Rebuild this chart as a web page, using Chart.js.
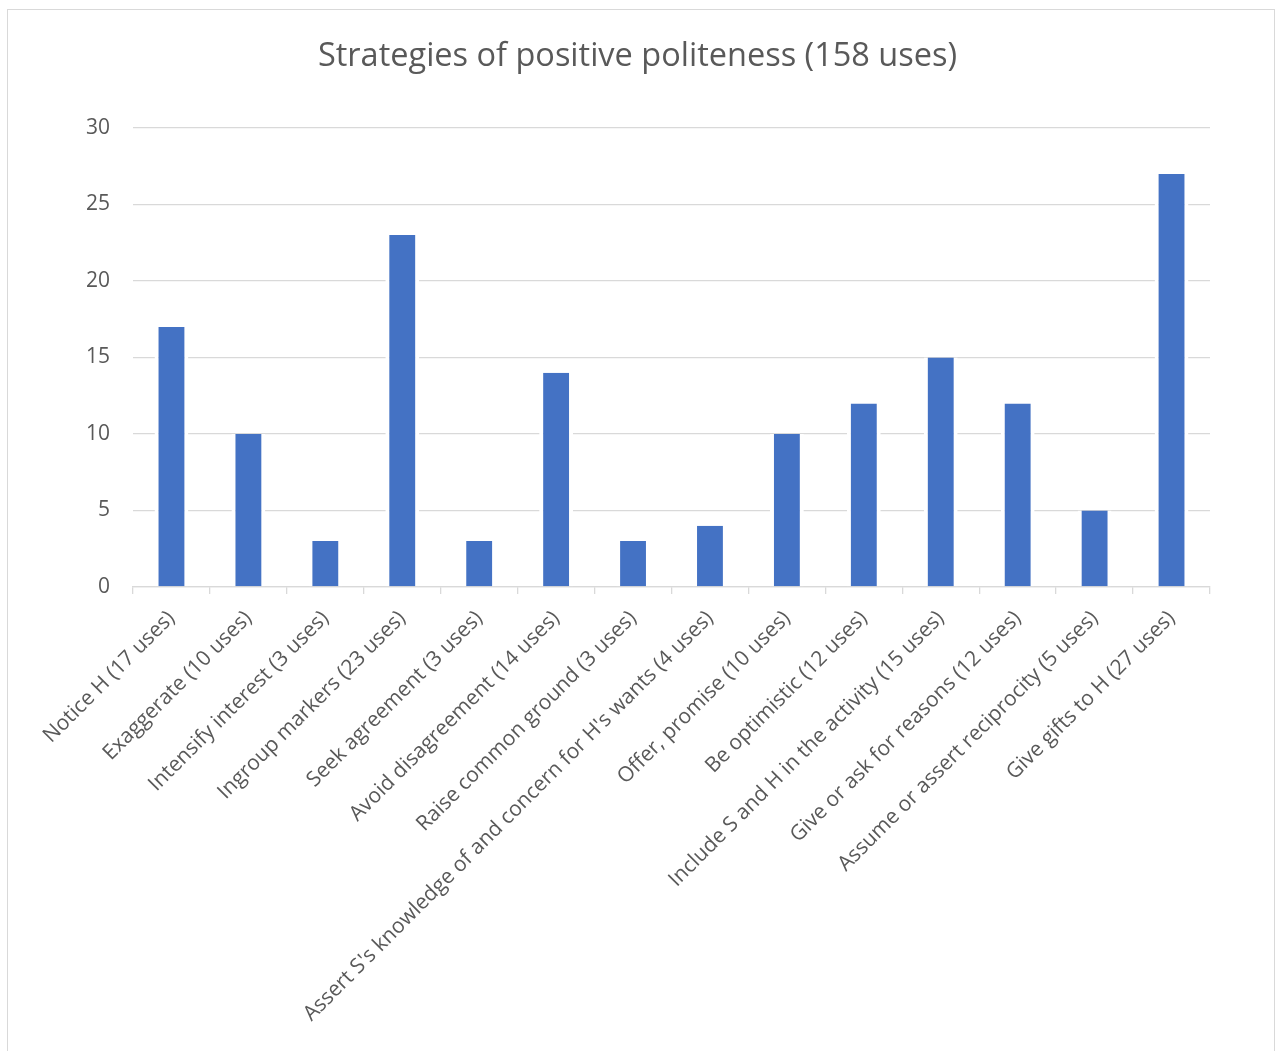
<!DOCTYPE html>
<html>
<head>
<meta charset="utf-8">
<script src="https://cdn.jsdelivr.net/npm/chart.js@4.4.0/dist/chart.umd.min.js"></script>
<style>
  html, body { margin: 0; padding: 0; background: #fff; overflow: hidden; }
  #frame { position: absolute; left: 7px; top: 9px; width: 1266px; height: 1060px; border: 1.5px solid #d9d9d9; }
  #wrap { position: absolute; left: 0; top: 0; width: 1275px; height: 1051px; }
</style>
</head>
<body>
<div id="frame"></div>
<div id="wrap"><canvas id="c" width="1275" height="1051"></canvas></div>
<script>
// datos
const categories = [
  'Notice H (17 uses)',
  'Exaggerate (10 uses)',
  'Intensify interest (3 uses)',
  'Ingroup markers (23 uses)',
  'Seek agreement (3 uses)',
  'Avoid disagreement (14 uses)',
  'Raise common ground (3 uses)',
  "Assert S's knowledge of and concern for H's wants (4 uses)",
  'Offer, promise (10 uses)',
  'Be optimistic (12 uses)',
  'Include S and H in the activity (15 uses)',
  'Give or ask for reasons (12 uses)',
  'Assume or assert reciprocity (5 uses)',
  'Give gifts to H (27 uses)'
];
const uses = [17, 10, 3, 23, 3, 14, 3, 4, 10, 12, 15, 12, 5, 27];
const yTicks = [0, 5, 10, 15, 20, 25, 30];

const grey = '#595959';
const font = 'Open Sans';

new Chart(document.getElementById('c'), {
  type: 'bar',
  data: {
    labels: categories,
    datasets: [{
      data: uses,
      backgroundColor: '#4472C4',
      borderColor: '#ffffff',
      borderWidth: { top: 0, left: 4, right: 4, bottom: 0 },
      borderSkipped: false,
      categoryPercentage: 1,
      barPercentage: 0.44
    }]
  },
  options: {
    responsive: false,
    animation: false,
    layout: { padding: 0 },
    plugins: {
      legend: { display: false },
      tooltip: { enabled: false },
      title: {
        display: true,
        text: 'Strategies of positive politeness (158 uses)',
        color: grey,
        font: { family: font, size: 32.5, weight: 'normal' },
        padding: { top: 37, bottom: 52 }
      }
    },
    scales: {
      x: {
        offset: true,
        grid: { offset: true, drawOnChartArea: false, drawTicks: true, tickLength: 7, color: '#d9d9d9', lineWidth: 1.3 },
        border: { display: true, color: '#d9d9d9', width: 1.3 },
        ticks: {
          autoSkip: false, minRotation: 45, maxRotation: 45,
          color: grey, font: { family: font, size: 21 }, padding: 12
        },
        afterFit: (s) => { s.height = 1051 - 587; }
      },
      y: {
        min: 0, max: 30,
        afterBuildTicks: (s) => { s.ticks = yTicks.map((v) => ({ value: v })); },
        grid: { color: '#d9d9d9', lineWidth: 1.3, drawTicks: false },
        border: { display: false },
        ticks: { color: grey, font: { family: font, size: 21 }, padding: 23 },
        afterFit: (s) => { s.width = 133; }
      },
      // eje vacio a la derecha solo para reservar el margen
      yRight: {
        position: 'right',
        min: 0, max: 30,
        grid: { display: false },
        border: { display: false },
        ticks: { display: false },
        afterFit: (s) => { s.width = 65; }
      }
    }
  }
});
</script>
</body>
</html>
